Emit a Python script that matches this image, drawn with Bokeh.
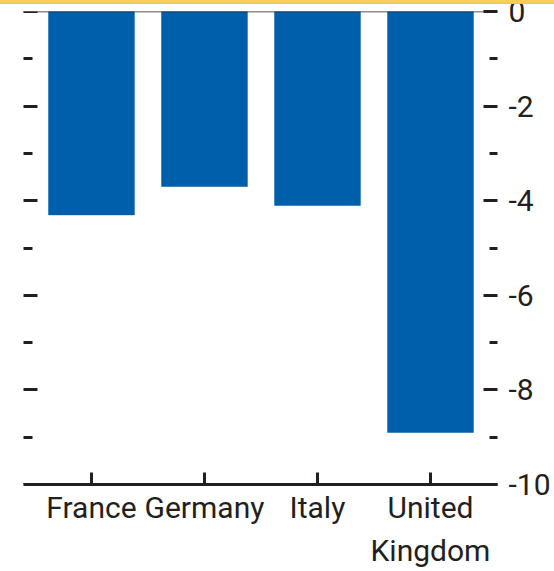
from bokeh.plotting import figure
from bokeh.models import (Range1d, LinearAxis, FixedTicker, ColumnDataSource,
                          InlineStyleSheet)
from bokeh.embed import file_html
from bokeh.resources import INLINE

# Current-account style balances, % of GDP
countries = ["France", "Germany", "Italy", "United\nKingdom"]
balance = [-4.3, -3.7, -4.1, -8.9]

major_ticks = [0, -2, -4, -6, -8, -10]
minor_ticks = [-1, -3, -5, -7, -9]
tick_labels = {t: str(t) for t in major_ticks}

INK = "#231f20"
BLUE = "#005fab"
FONT = "Roboto"
LABEL_SIZE = "30px"

# one slot per country along x
slots = list(range(len(countries)))
country_labels = dict(zip(slots, countries))

X_START, X_END = -0.805, len(countries) - 1 + 0.593
AXIS_START = -0.602          # where the baseline and left ticks begin

src = ColumnDataSource(dict(slot=slots, value=balance))

# thin header band along the top edge of the page
header = InlineStyleSheet(css="""
:host::after {
  content: "";
  position: absolute;
  left: 0; top: 0; width: 100%; height: 3px;
  background: #ffc966;
  border-bottom: 1.5px solid #c6c6c6;
  z-index: 100;
  pointer-events: none;
}
""")

p = figure(
    width=554, height=571,
    x_range=Range1d(X_START, X_END), y_range=Range1d(-10, 0),
    output_backend="svg", toolbar_location=None,
    x_axis_location=None, y_axis_location=None,
    min_border_top=11, min_border_left=0, min_border_right=57, min_border_bottom=86,
    stylesheets=[header],
)
p.outline_line_color = None
p.grid.visible = False
p.background_fill_color = "white"
p.border_fill_color = "white"

p.vbar(x="slot", top=0, bottom="value", width=0.76, source=src,
       fill_color=BLUE, line_color=BLUE, line_width=0.5)

# zero line
p.segment(x0=AXIS_START, x1=X_END, y0=0, y1=0, line_color=INK, line_width=1.5)

ticker = FixedTicker(ticks=major_ticks, minor_ticks=minor_ticks)

# left side: tick marks only
left = LinearAxis(ticker=ticker, axis_line_color=None, fixed_location=AXIS_START,
                  major_tick_in=14, major_tick_out=0,
                  minor_tick_in=9, minor_tick_out=0,
                  major_tick_line_color=INK, minor_tick_line_color=INK,
                  major_tick_line_width=3, minor_tick_line_width=3,
                  major_label_text_color=None, major_label_text_font_size="1px",
                  major_label_standoff=0)
p.add_layout(left, "left")

# right side: tick marks with labels
right = LinearAxis(ticker=ticker, axis_line_color=None,
                   major_tick_in=14, major_tick_out=0,
                   minor_tick_in=8, minor_tick_out=0,
                   major_tick_line_color=INK, minor_tick_line_color=INK,
                   major_tick_line_width=3, minor_tick_line_width=3,
                   major_label_overrides=tick_labels,
                   major_label_text_font=FONT, major_label_text_font_size=LABEL_SIZE,
                   major_label_text_color=INK, major_label_standoff=11)
p.add_layout(right, "right")

# bottom: country axis
bottom = LinearAxis(ticker=FixedTicker(ticks=slots, minor_ticks=[]),
                    bounds=(AXIS_START, X_END),
                    major_label_overrides=country_labels,
                    axis_line_color=INK, axis_line_width=3,
                    major_tick_in=12, major_tick_out=0,
                    major_tick_line_color=INK, major_tick_line_width=3,
                    minor_tick_line_color=None,
                    major_label_text_font=FONT, major_label_text_font_size=LABEL_SIZE,
                    major_label_text_color=INK, major_label_text_line_height=1.25,
                    major_label_standoff=5)
p.add_layout(bottom, "below")

open("out.html", "w").write(file_html(p, INLINE))
